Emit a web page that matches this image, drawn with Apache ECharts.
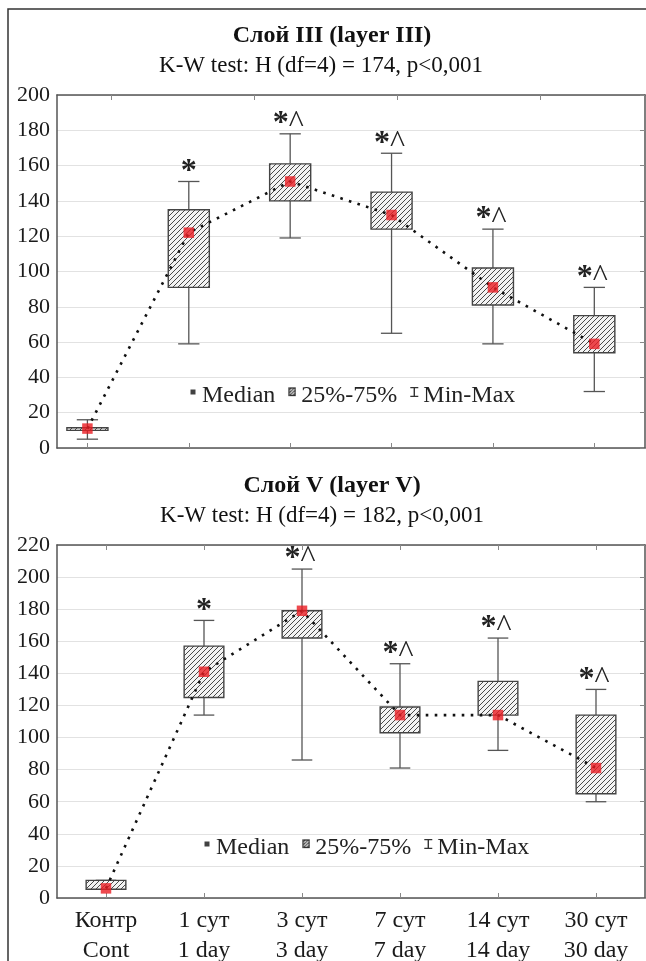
<!DOCTYPE html>
<html>
<head>
<meta charset="utf-8">
<script src="https://cdn.jsdelivr.net/npm/echarts@6/dist/echarts.min.js"></script>
<style>
html,body{margin:0;padding:0;background:#fff;}
#c{width:646px;height:961px;}
</style>
</head>
<body>
<div id="c"></div>
<script>
// ---------- data ----------
const catsRu = ['Контр', '1 сут', '3 сут', '7 сут', '14 сут', '30 сут'];
const catsEn = ['Cont', '1 day', '3 day', '7 day', '14 day', '30 day'];
const catIdx = [0, 1, 2, 3, 4, 5];

// Layer III
const l3Min = [5, 59, 119, 65, 59, 32];
const l3Q1  = [10, 91, 140, 124, 81, 54];
const l3Med = [11, 122, 151, 132, 91, 59];
const l3Q3  = [11.5, 135, 161, 145, 102, 75];
const l3Max = [16, 151, 178, 167, 124, 91];
const l3Marks = ['', '*', '*^', '*^', '*^', '*^'];

// Layer V
const l5Min = [5.5, 114, 86, 81, 92, 60];
const l5Q1  = [5.5, 125, 162, 103, 114, 65];
const l5Med = [6, 141, 179, 114, 114, 81];
const l5Q3  = [11, 157, 179, 119, 135, 114];
const l5Max = [11, 173, 205, 146, 162, 130];
const l5Marks = ['', '*', '*^', '*^', '*^', '*^'];

const topTicksPanel1 = [0.24, 1.65, 3.06, 4.47];

const titles = ['Слой III (layer III)', 'Слой V (layer V)'];
const subtitles = ['K-W test: H (df=4) = 174, p<0,001', 'K-W test: H (df=4) = 182, p<0,001'];

// ---------- styling helpers ----------
const FONT = '"Liberation Serif", "Times New Roman", serif';
const TXT = '#1a1a1a';

function makeHatch(size, bg) {
  const c = document.createElement('canvas');
  c.width = size; c.height = size;
  const ctx = c.getContext('2d');
  ctx.fillStyle = bg; ctx.fillRect(0, 0, size, size);
  ctx.strokeStyle = '#4a4a4a'; ctx.lineWidth = 1;
  ctx.beginPath();
  ctx.moveTo(0, size); ctx.lineTo(size, 0);
  ctx.moveTo(-1, 1); ctx.lineTo(1, -1);
  ctx.moveTo(size - 1, size + 1); ctx.lineTo(size + 1, size - 1);
  ctx.stroke();
  return c;
}
const hatchCanvas = makeHatch(5, '#f3f3f3');

function legendHatchURL() {
  const c = document.createElement('canvas');
  c.width = 16; c.height = 36;
  const ctx = c.getContext('2d');
  ctx.fillStyle = '#f0f0f0'; ctx.fillRect(2, 2, 12, 15);
  ctx.save(); ctx.beginPath(); ctx.rect(2, 2, 12, 15); ctx.clip();
  ctx.strokeStyle = '#444'; ctx.lineWidth = 2;
  ctx.beginPath();
  for (let k = -16; k < 30; k += 6) { ctx.moveTo(k, 18); ctx.lineTo(k + 16, 2); }
  ctx.stroke(); ctx.restore();
  ctx.strokeStyle = '#333'; ctx.lineWidth = 2.6;
  ctx.strokeRect(2, 2, 12, 15);
  return c.toDataURL();
}
const hatchIcon = 'image://' + legendHatchURL();

function whiskerRender(params, api) {
  const x = api.value(0);
  const pMin = api.coord([x, api.value(1)]);
  const pQ1 = api.coord([x, api.value(2)]);
  const pQ3 = api.coord([x, api.value(3)]);
  const pMax = api.coord([x, api.value(4)]);
  const cw = api.size([1, 0])[0] * 0.21;
  const st = { stroke: '#555', lineWidth: 1.3 };
  return {
    type: 'group',
    children: [
      { type: 'line', shape: { x1: pMax[0], y1: pMax[1], x2: pQ3[0], y2: pQ3[1] }, style: st },
      { type: 'line', shape: { x1: pQ1[0], y1: pQ1[1], x2: pMin[0], y2: pMin[1] }, style: st },
      { type: 'line', shape: { x1: pMax[0] - cw / 2, y1: pMax[1], x2: pMax[0] + cw / 2, y2: pMax[1] }, style: st },
      { type: 'line', shape: { x1: pMin[0] - cw / 2, y1: pMin[1], x2: pMin[0] + cw / 2, y2: pMin[1] }, style: st }
    ]
  };
}
function boxRender(params, api) {
  const x = api.value(0);
  const pQ1 = api.coord([x, api.value(2)]);
  const pQ3 = api.coord([x, api.value(3)]);
  const bw = api.size([1, 0])[0] * 0.405;
  return {
    type: 'rect',
    shape: { x: pQ3[0] - bw / 2, y: pQ3[1], width: bw, height: Math.max(pQ1[1] - pQ3[1], 1) },
    style: { fill: { image: hatchCanvas, repeat: 'repeat' }, stroke: '#444', lineWidth: 1.4 }
  };
}
function markRender(marks) {
  return function (params, api) {
    const i = api.value(0);
    const m = marks[i];
    if (!m) return null;
    const p = api.coord([i, api.value(1)]);
    const txt = m === '*' ? '{a|*}' : '{a|*}{b|^}';
    return {
      type: 'text',
      x: m === '*' ? p[0] : p[0] - 2,
      y: p[1] - 10,
      style: {
        text: txt,
        align: 'center',
        verticalAlign: 'middle',
        rich: {
          a: { fontFamily: FONT, fontWeight: 'bold', fontSize: 32, fill: '#222' },
          b: { fontFamily: FONT, fontSize: 32, fill: '#222' }
        }
      }
    };
  };
}

function panelSeries(p, mins, q1, med, q3, maxs, marks) {
  const ax = { xAxisIndex: p * 2, yAxisIndex: p * 2 };
  const boxData = catIdx.map(i => [i, mins[i], q1[i], q3[i], maxs[i]]);
  const medData = catIdx.map(i => [i, med[i]]);
  return [
    Object.assign({ type: 'custom', name: 'Min-Max', renderItem: whiskerRender, data: boxData,
      encode: { x: 0, y: [1, 2, 3, 4] }, z: 2, silent: true }, ax),
    Object.assign({ type: 'custom', name: '25%-75%', renderItem: boxRender, data: boxData,
      encode: { x: 0, y: [1, 2, 3, 4] }, z: 3, silent: true }, ax),
    Object.assign({ type: 'line', name: 'trend', data: medData, symbol: 'none', z: 4, silent: true,
      lineStyle: { color: '#111', width: 2.6, type: [2.6, 6.4], cap: 'butt' } }, ax),
    Object.assign({ type: 'scatter', name: 'Median', data: medData, symbol: 'rect', symbolSize: 10.5, z: 5, silent: true,
      itemStyle: { color: '#ea1c22' } }, ax),
    Object.assign({ type: 'custom', name: 'marks', renderItem: markRender(marks),
      data: catIdx.map(i => [i, maxs[i]]), encode: { x: 0, y: 1 }, z: 6, silent: true }, ax)
  ];
}

const axisLineStyle = { show: true, onZero: false, lineStyle: { color: '#555', width: 1.5 } };
const tickStyle = { lineStyle: { color: '#888', width: 1 } };

function yAxes(grid, max) {
  return [
    { type: 'value', gridIndex: grid, min: 0, max: max, interval: 20, position: 'left',
      axisLine: axisLineStyle, axisTick: { show: false },
      axisLabel: { fontFamily: FONT, fontSize: 22, color: TXT, margin: 7 },
      splitLine: { show: true, lineStyle: { color: '#e2e2e2', width: 1 } } },
    { type: 'value', gridIndex: grid, min: 0, max: max, interval: 20, position: 'right',
      axisLine: axisLineStyle, axisTick: Object.assign({ show: true, inside: true, length: 5 }, tickStyle),
      axisLabel: { show: false }, splitLine: { show: false } }
  ];
}

const option = {
  animation: false,
  backgroundColor: '#fff',
  grid: [
    { left: 57, top: 95, width: 588, height: 353, containLabel: false, outerBoundsMode: 'none' },
    { left: 57, top: 545, width: 588, height: 353, containLabel: false, outerBoundsMode: 'none' }
  ],
  xAxis: [
    { type: 'value', gridIndex: 0, min: -0.3, max: 5.5, position: 'bottom',
      axisLine: axisLineStyle, axisTick: Object.assign({ show: true, inside: true, length: 5, customValues: catIdx }, tickStyle),
      axisLabel: { show: false }, splitLine: { show: false } },
    { type: 'value', gridIndex: 0, min: -0.3, max: 5.5, position: 'top',
      axisLine: axisLineStyle, axisTick: Object.assign({ show: true, inside: true, length: 5, customValues: topTicksPanel1 }, tickStyle),
      axisLabel: { show: false }, splitLine: { show: false } },
    { type: 'value', gridIndex: 1, min: -0.5, max: 5.5, position: 'bottom',
      axisLine: axisLineStyle, axisTick: Object.assign({ show: true, inside: true, length: 5, customValues: catIdx }, tickStyle),
      axisLabel: { show: true, customValues: catIdx, fontFamily: FONT, fontSize: 24, color: TXT, lineHeight: 30, margin: 8,
        formatter: v => catsRu[Math.round(v)] + '\n' + catsEn[Math.round(v)] },
      splitLine: { show: false } },
    { type: 'value', gridIndex: 1, min: -0.5, max: 5.5, position: 'top',
      axisLine: axisLineStyle, axisTick: Object.assign({ show: true, inside: true, length: 5, customValues: catIdx }, tickStyle),
      axisLabel: { show: false }, splitLine: { show: false } }
  ],
  yAxis: yAxes(0, 200).concat(yAxes(1, 220)),
  legend: [0, 1].map(p => ({
    left: p === 0 ? 189 : 203,
    top: p === 0 ? 383 : 835,
    padding: 0,
    itemWidth: 8, itemHeight: 18, itemGap: 13,
    selectedMode: false,
    textStyle: { fontFamily: FONT, fontSize: 24, color: '#222', lineHeight: 26 },
    data: [
      { name: 'Median', icon: 'path://M0,0M8,18M1.5,2.5h5v5h-5z', itemStyle: { color: '#111', borderWidth: 0 } },
      { name: '25%-75%', icon: hatchIcon },
      { name: 'Min-Max', icon: 'path://M0,18M0,0H8V1.3H4.7V8.7H8V10H0V8.7H3.3V1.3H0Z', itemStyle: { color: '#333', borderWidth: 0 } }
    ]
  })),
  graphic: [
    { type: 'rect', shape: { x: 8, y: 9, width: 700, height: 1000 }, style: { fill: 'transparent', stroke: '#333', lineWidth: 1.5 }, z: -10, silent: true },
    { type: 'text', x: 332, y: 36, style: { text: titles[0], font: 'bold 24px ' + FONT, fill: '#111', align: 'center', verticalAlign: 'middle' } },
    { type: 'text', x: 321, y: 66, style: { text: subtitles[0], font: '23px ' + FONT, fill: '#111', align: 'center', verticalAlign: 'middle' } },
    { type: 'text', x: 332, y: 486, style: { text: titles[1], font: 'bold 24px ' + FONT, fill: '#111', align: 'center', verticalAlign: 'middle' } },
    { type: 'text', x: 322, y: 516, style: { text: subtitles[1], font: '23px ' + FONT, fill: '#111', align: 'center', verticalAlign: 'middle' } }
  ],
  series: panelSeries(0, l3Min, l3Q1, l3Med, l3Q3, l3Max, l3Marks)
    .concat(panelSeries(1, l5Min, l5Q1, l5Med, l5Q3, l5Max, l5Marks))
};

const chart = echarts.init(document.getElementById('c'), null, { renderer: 'canvas' });
chart.setOption(option);
</script>
</body>
</html>
